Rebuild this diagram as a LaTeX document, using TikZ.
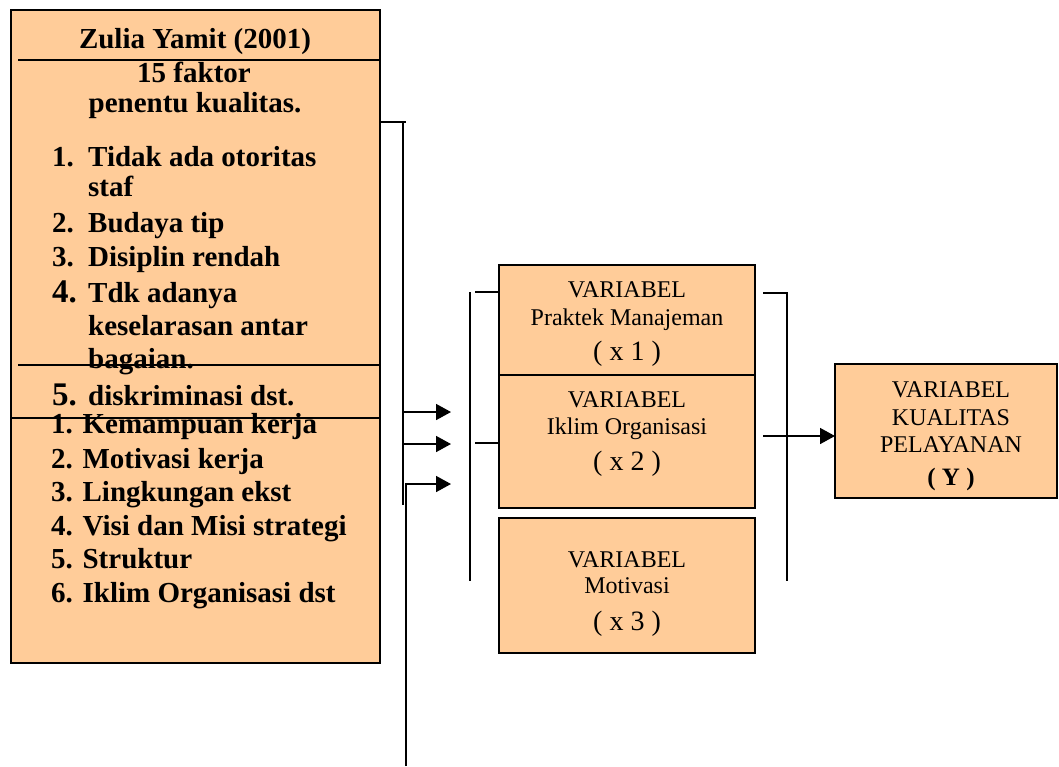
\documentclass[tikz,border=0pt]{standalone}
\usepackage{fontspec}
\setmainfont{Liberation Serif}
\usetikzlibrary{arrows.meta}
\definecolor{peach}{HTML}{FFCC99}
\begin{document}
\begin{tikzpicture}[x=1pt,y=-1pt,
  box/.style={draw=black, fill=peach, line width=1.8pt, inner sep=0pt, outer sep=0pt},
  conn/.style={line width=1.6pt},
  arr/.style={conn, -{Triangle[length=15pt,width=16pt]}},
  lt/.style={font=\fontsize{29}{34}\selectfont\bfseries, anchor=base west, inner sep=0pt},
  lc/.style={font=\fontsize{29}{34}\selectfont\bfseries, anchor=base, inner sep=0pt},
  vt/.style={font=\fontsize{24}{27}\selectfont, anchor=base, inner sep=0pt},
  vx/.style={font=\fontsize{28}{30}\selectfont, anchor=base, inner sep=0pt}
]
\useasboundingbox (0,0) rectangle (1059,766);

% ---- left box ----
\node[box, minimum width=369pt, minimum height=653pt] (L) at (195.5,336.5) {};
\coordinate (h1) at (18,60);
\coordinate (h2) at (18,365);
\coordinate (h3) at (11,418);
\draw[conn] (h1) -- (h1 -| L.east);
\draw[conn] (h2) -- (h2 -| L.east);

\node[lc] (title) at (195,48) {Zulia Yamit (2001)};
\node[lc] (fk) at (194,82) {15 faktor};
\node[lc] (pk) at (195,112) {penentu kualitas.};
\node[lt] (a1) at (52,166) {\makebox[36pt][l]{1.}Tidak ada otoritas};
\node[lt] (a1b) at (88,196) {staf};
\node[lt] (a2) at (52,232) {\makebox[36pt][l]{2.}Budaya tip};
\node[lt] (a3) at (52,266) {\makebox[36pt][l]{3.}Disiplin rendah};
\node[lt] (a4) at (52,302) {\makebox[36pt][l]{\fontsize{33}{34}\selectfont 4.}Tdk adanya};
\node[lt] (a4b) at (88,335) {keselarasan antar};
\node[lt] (a4c) at (88,368) {bagaian.};
\node[lt] (a5) at (52,405) {\makebox[36pt][l]{\fontsize{33}{34}\selectfont 5.}diskriminasi dst.};

\node[lt] (k1) at (51,433) {1. Kemampuan kerja};
\draw[conn] (h3) -- (h3 -| L.east);
\node[lt] (k2) at (51,468) {2. Motivasi kerja};
\node[lt] (k3) at (51,501) {3. Lingkungan ekst};
\node[lt] (k4) at (51,535) {4. Visi dan Misi strategi};
\node[lt] (k5) at (51,568) {5. Struktur};
\node[lt] (k6) at (51,602) {6. Iklim Organisasi dst};

% ---- middle boxes ----
\node[box, minimum width=256pt, minimum height=110pt] (M1) at (627,320) {};
\node[box, minimum width=256pt, minimum height=133pt] (M2) at (627,441.5) {};
\node[box, minimum width=256pt, minimum height=135pt] (M3) at (627,585.5) {};

\node[vt] (m1a) at (627,297) {VARIABEL};
\node[vt] (m1b) at (627,325) {Praktek Manajeman};
\node[vx] (m1c) at (627,360) {( x 1 )};
\node[vt] (m2a) at (627,407) {VARIABEL};
\node[vt] (m2b) at (627,434) {Iklim Organisasi};
\node[vx] (m2c) at (627,470) {( x 2 )};
\node[vt] (m3a) at (627,567) {VARIABEL};
\node[vt] (m3b) at (627,593) {Motivasi};
\node[vx] (m3c) at (627,630) {( x 3 )};

% ---- right box ----
\node[box, minimum width=222pt, minimum height=134pt] (Y) at (946,431) {};
\node[vt] (ya) at (951,397) {VARIABEL};
\node[vt] (yb) at (951,425) {KUALITAS};
\node[vt] (yc) at (951,452) {PELAYANAN};
\node[vt, font=\fontsize{25}{27}\selectfont\bfseries] (yd) at (951,485) {( Y )};

% ---- connectors ----
\coordinate (e1) at (403,122);
\coordinate (e2) at (403,505);
\draw[conn] (e1 -| L.east) -- ([xshift=3pt]e1);
\draw[conn] (e1) -- (e2);
\coordinate (t1) at (451,412);
\coordinate (t2) at (451,444);
\coordinate (t3) at (451,484);
\draw[arr] (e1 |- t1) -- (t1);
\draw[arr] (e1 |- t2) -- (t2);
\coordinate (f1) at (406,766);
\draw[arr] (f1) -- (f1 |- t3) -- (t3);

\coordinate (b1) at (470,292);
\coordinate (b2) at (470,581);
\draw[conn] (b1) -- (b2);
\coordinate (b0) at (475,292);
\draw[conn] (b0) -- (b0 -| M1.west);
\coordinate (b3) at (475,443);
\draw[conn] (b3) -- (b3 -| M2.west);

\coordinate (r0) at (763,293);
\coordinate (r1) at (787,293);
\coordinate (r2) at (787,581);
\draw[conn] (r0) -- (r1) -- (r2);
\coordinate (r3) at (763,436);
\draw[arr] (r3) -- (r3 -| Y.west);
\end{tikzpicture}
\end{document}
